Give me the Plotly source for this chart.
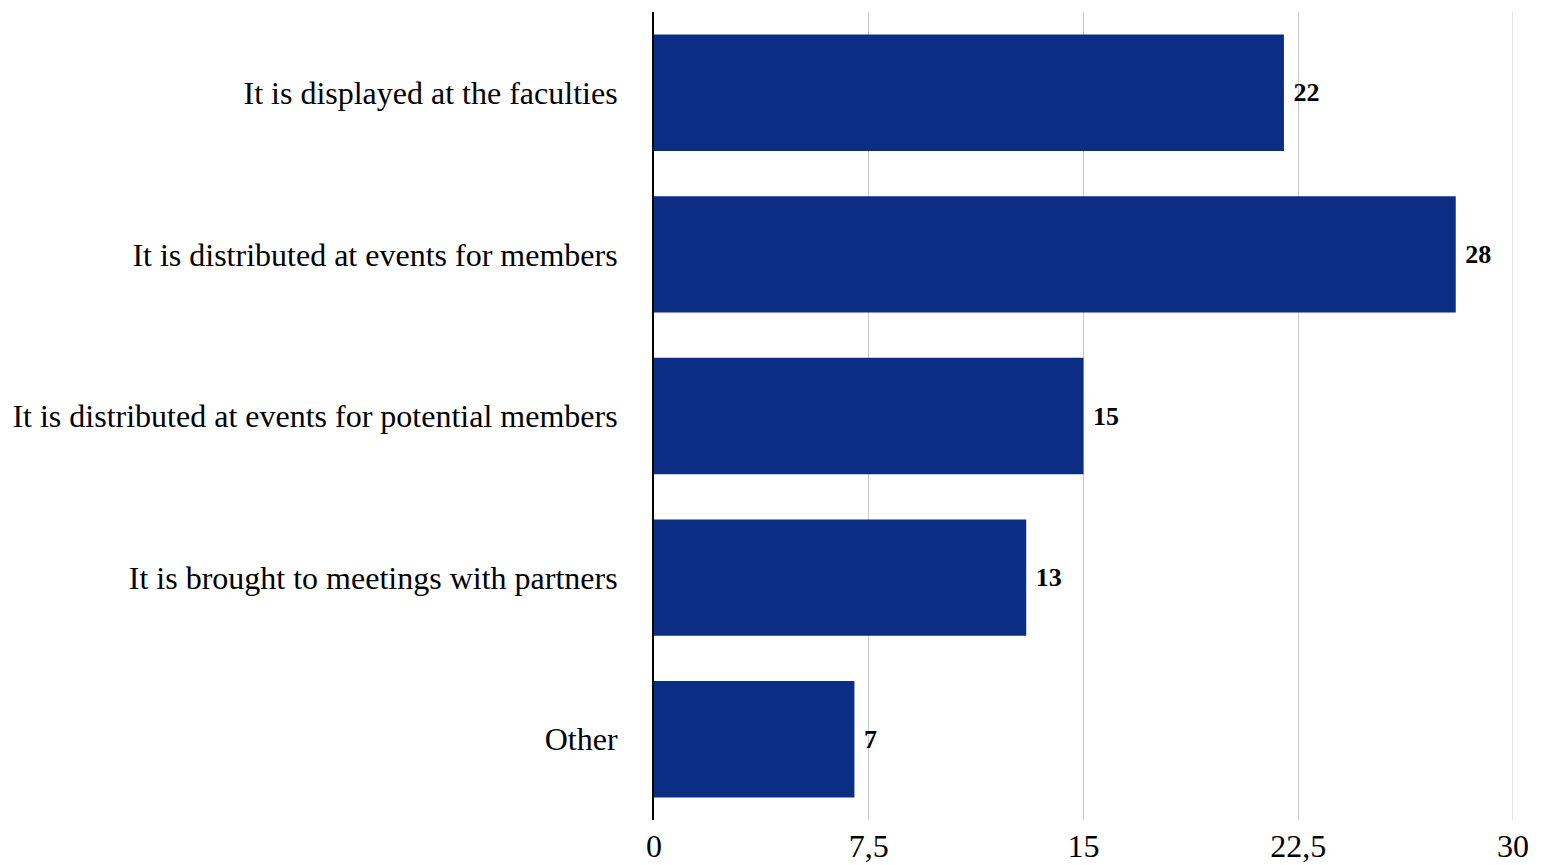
import plotly.graph_objects as go

categories = [
    "It is displayed at the faculties",
    "It is distributed at events for members",
    "It is distributed at events for potential members",
    "It is brought to meetings with partners",
    "Other",
]
values = [22, 28, 15, 13, 7]
x_ticks = [0, 7.5, 15, 22.5, 30]
x_tick_labels = ["0", "7,5", "15", "22,5", "30"]

fig = go.Figure(
    go.Bar(
        y=categories,
        x=values,
        orientation="h",
        marker=dict(color="#0b2d84", line=dict(width=0)),
        text=[f"\u00a0<b>{v}</b>" for v in values],
        textposition="outside",
        textfont=dict(family="Liberation Serif", size=26, color="#000000"),
        cliponaxis=False,
    )
)

fig.update_layout(
    width=1548,
    height=865,
    margin=dict(l=640, r=43, t=4, b=53),
    plot_bgcolor="#ffffff",
    paper_bgcolor="#ffffff",
    bargap=0.28,
    showlegend=False,
    font=dict(family="Liberation Serif", size=30, color="#000000"),
)

# gridline at the far end of the axis (plotly skips it at the range edge)
fig.add_shape(
    type="line",
    xref="x", yref="paper",
    x0=x_ticks[-1], x1=x_ticks[-1], y0=0, y1=1,
    line=dict(color="#c8c8c8", width=1),
    layer="below",
)

fig.update_xaxes(
    range=[x_ticks[0], x_ticks[-1]],
    tickvals=x_ticks,
    ticktext=x_tick_labels,
    showgrid=True,
    gridcolor="#c8c8c8",
    gridwidth=1,
    zeroline=False,
    showline=False,
    tickfont=dict(family="Liberation Serif", size=32),
    ticks="",
    ticklabelstandoff=4,
)

fig.update_yaxes(
    autorange="reversed",
    showline=True,
    linecolor="#000000",
    linewidth=2,
    showgrid=False,
    ticks="",
    ticklabelstandoff=28,
    tickfont=dict(family="Liberation Serif", size=32),
)

fig.write_html("out.html")
